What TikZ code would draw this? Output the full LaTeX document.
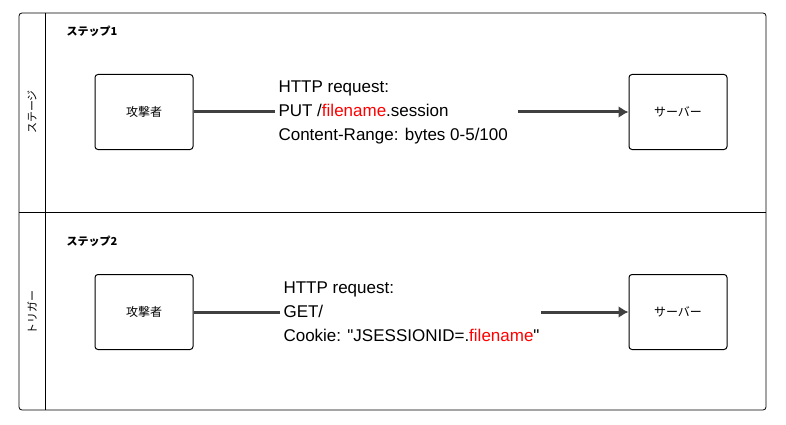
\documentclass[tikz,border=0pt]{standalone}
\usetikzlibrary{arrows.meta}
\usepackage{fontspec}
\setmainfont{Liberation Sans}[Ligatures=TeXOff]
\newfontfamily\cjk{Noto Sans CJK JP}
\begin{document}
\begin{tikzpicture}[x=1pt,y=-1pt,
  boxn/.style={draw=black,line width=1pt,rounded corners=3pt,minimum width=98pt,minimum height=75pt,font=\cjk\fontsize{12}{14}\selectfont},
  conn/.style={draw=black!75,line width=3pt},
  req/.style={align=left,anchor=west,font=\fontsize{17}{24}\selectfont},
  steplbl/.style={anchor=west,font=\cjk\bfseries\fontsize{11}{13}\selectfont}]
\useasboundingbox (0,0) rectangle (786,425);
\draw[line width=0.8pt,rounded corners=3pt] (19,13) rectangle (766,410);
\draw[line width=0.8pt] (45,13) -- (45,410);
\draw[line width=0.8pt] (19,212) -- (766,212);
\node[rotate=90,font=\cjk\fontsize{11}{13}\selectfont] (l1) at (32,112) {ステージ};
\node[rotate=90,font=\cjk\fontsize{11}{13}\selectfont] (l2) at (32,312) {トリガー};
\node[steplbl] (s1) at (63,31) {ステップ1};
\node[steplbl] (s2) at (63,241) {ステップ2};
\node[boxn] (a1) at (144,112) {攻撃者};
\node[boxn] (v1) at (678,112) {サーバー};
\node[boxn] (a2) at (144,312) {攻撃者};
\node[boxn] (v2) at (678,312) {サーバー};
\node[req] (t1) at (275,112) {HTTP request:\\PUT /\textcolor{red}{filename}.session\\Content-Range: bytes 0-5/100};
\node[req] (t2) at (280,312) {HTTP request:\\GET/\\Cookie: "JSESSIONID=.\textcolor{red}{filename}"};
\coordinate (e1) at (275,112);
\coordinate (b1) at (518,112);
\coordinate (e2) at (280,312);
\coordinate (b2) at (541,312);
\draw[conn] (a1.east) -- (e1);
\draw[conn,-{Latex[length=10pt,width=12pt]}] (b1) -- (v1.west);
\draw[conn] (a2.east) -- (e2);
\draw[conn,-{Latex[length=10pt,width=12pt]}] (b2) -- (v2.west);
\end{tikzpicture}
\end{document}
